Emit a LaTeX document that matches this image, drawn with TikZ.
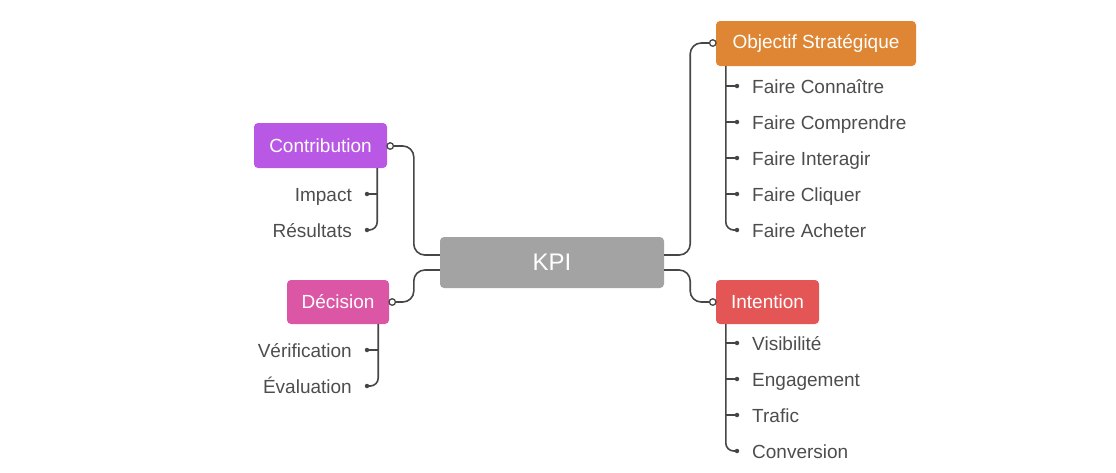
\documentclass[tikz,border=0pt]{standalone}
\usepackage{fontspec}
\setmainfont{Liberation Sans}
\usetikzlibrary{calc}
\definecolor{cpurple}{RGB}{185,88,228}
\definecolor{cpink}{RGB}{220,86,166}
\definecolor{corange}{RGB}{222,134,52}
\definecolor{cred}{RGB}{228,86,86}
\definecolor{cgray}{RGB}{163,163,163}
\definecolor{ctext}{RGB}{77,77,77}
\definecolor{cline}{RGB}{70,70,70}
\tikzset{
  topic/.style={rectangle, rounded corners=4pt, text=white, inner sep=0pt,
    font=\fontsize{19}{22}\selectfont},
  item/.style={text=ctext, inner sep=0pt, font=\fontsize{19}{22}\selectfont},
  link/.style={draw=cline, line width=1.6pt, rounded corners=11pt},
  branch/.style={draw=cline, line width=1.6pt, rounded corners=8pt},
  ring/.style={circle, draw=cline, fill=white, line width=1.3pt, inner sep=0pt, minimum size=6.5pt},
  dotmark/.style={circle, fill=cline, inner sep=0pt, minimum size=4.5pt}
}
\begin{document}
\begin{tikzpicture}[x=1pt,y=-1pt]
\useasboundingbox (0,0) rectangle (1116,472);
% main nodes
\node[topic, fill=cgray, minimum width=224pt, minimum height=51pt,
  font=\fontsize{24}{28}\selectfont] (kpi) at (552,262.5) {KPI};
\node[topic, fill=cpurple, minimum width=133pt, minimum height=45pt] (contrib) at (320.5,145.5) {Contribution};
\node[topic, fill=cpink, minimum width=102pt, minimum height=44pt] (decision) at (338,302) {Décision};
\node[topic, fill=corange, minimum width=200pt, minimum height=45pt] (objectif) at (816,43.5) {Objectif Stratégique};
\node[topic, fill=cred, minimum width=103pt, minimum height=44pt] (intention) at (767.5,302) {Intention};
% anchor points on KPI
\coordinate (kul) at ($(kpi.west)+(0,-7.5)$);
\coordinate (kll) at ($(kpi.west)+(0,7.5)$);
\coordinate (kur) at ($(kpi.east)+(0,-7.5)$);
\coordinate (klr) at ($(kpi.east)+(0,7.5)$);
% rings
\node[ring] (rc) at ($(contrib.east)+(3,0.5)$) {};
\node[ring] (rd) at ($(decision.east)+(3,0)$) {};
\node[ring] (ro) at ($(objectif.west)+(-3,-0.5)$) {};
\node[ring] (ri) at ($(intention.west)+(-3,0)$) {};
% main links
\draw[link] (kul) -- ++(-26,0) |- (rc.east);
\draw[link] (kll) -- ++(-26,0) |- (rd.east);
\draw[link] (kur) -- ++(26,0) |- (ro.west);
\draw[link] (klr) -- ++(26,0) |- (ri.west);
% Objectif items
\node[item, anchor=base west] (o1) at (752,93) {Faire Connaître};
\node[item, anchor=base west] (o2) at (752,129) {Faire Comprendre};
\node[item, anchor=base west] (o3) at (752,165) {Faire Interagir};
\node[item, anchor=base west] (o4) at (752,201) {Faire Cliquer};
\node[item, anchor=base west] (o5) at (752,237) {Faire Acheter};
\foreach \n in {o1,o2,o3,o4,o5}{\node[dotmark] (d\n) at ($(\n.base west)+(-15,-7)$) {};}
\coordinate (otop) at ($(objectif.south west)+(10,0)$);
\draw[branch] (otop) |- (do5.center);
\foreach \n in {o1,o2,o3,o4}{\draw[branch] (otop |- d\n) -- (d\n.center);}
% Intention items
\node[item, anchor=base west] (i1) at (752,350) {Visibilité};
\node[item, anchor=base west] (i2) at (752,386) {Engagement};
\node[item, anchor=base west] (i3) at (752,422) {Trafic};
\node[item, anchor=base west] (i4) at (752,458) {Conversion};
\foreach \n in {i1,i2,i3,i4}{\node[dotmark] (d\n) at ($(\n.base west)+(-15,-7)$) {};}
\coordinate (itop) at ($(intention.south west)+(10,0)$);
\draw[branch] (itop) |- (di4.center);
\foreach \n in {i1,i2,i3}{\draw[branch] (itop |- d\n) -- (d\n.center);}
% Contribution items
\node[item, anchor=base east] (c1) at (352,201) {Impact};
\node[item, anchor=base east] (c2) at (352,237) {Résultats};
\foreach \n in {c1,c2}{\node[dotmark] (d\n) at ($(\n.base east)+(15,-7)$) {};}
\coordinate (ctop) at ($(contrib.south east)+(-10,0)$);
\draw[branch] (ctop) |- (dc2.center);
\draw[branch] (ctop |- dc1) -- (dc1.center);
% Decision items
\node[item, anchor=base east] (e1) at (352,357) {Vérification};
\node[item, anchor=base east] (e2) at (352,393) {Évaluation};
\foreach \n in {e1,e2}{\node[dotmark] (d\n) at ($(\n.base east)+(15,-7)$) {};}
\coordinate (etop) at ($(decision.south east)+(-11,0)$);
\draw[branch] (etop) |- (de2.center);
\draw[branch] (etop |- de1) -- (de1.center);
\end{tikzpicture}
\end{document}
